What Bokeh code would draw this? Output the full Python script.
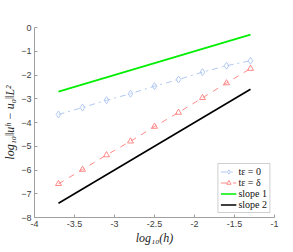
from bokeh.plotting import figure
from bokeh.models import FixedTicker, Legend, LegendItem
from bokeh.embed import file_html
from bokeh.resources import INLINE

# data
log_h = [-3.7, -3.4, -3.1, -2.8, -2.5, -2.2, -1.9, -1.6, -1.3]
err_t0 = [-3.66, -3.37, -3.06, -2.79, -2.47, -2.19, -1.88, -1.61, -1.40]
err_tdelta = [-6.58, -5.98, -5.37, -4.79, -4.17, -3.58, -2.96, -2.34, -1.73]
slope1_x = [-3.7, -1.3]
slope1_y = [-2.7, -0.3]
slope2_x = [-3.7, -1.3]
slope2_y = [-7.4, -2.6]
x_ticks = [-4, -3.5, -3, -2.5, -2, -1.5, -1]
y_ticks = [-8, -7, -6, -5, -4, -3, -2, -1, 0]

p = figure(frame_width=240, frame_height=190, x_range=(-4, -1), y_range=(-8, 0),
           output_backend="svg", toolbar_location=None,
           min_border_left=24, min_border_right=13, min_border_top=27, min_border_bottom=25)
p.background_fill_color = "white"
p.border_fill_color = "white"
p.outline_line_color = None
p.xgrid.visible = False
p.ygrid.visible = False

for ax in (p.xaxis[0], p.yaxis[0]):
    ax.axis_line_color = "#a0a0a0"
    ax.major_tick_line_color = "#a0a0a0"
    ax.minor_tick_line_color = None
    ax.major_tick_in = 3
    ax.major_tick_out = 0
    ax.major_label_text_font = "Liberation Sans"
    ax.major_label_text_font_size = "9px"
    ax.major_label_text_color = "#404040"
    ax.major_label_standoff = 3
    ax.axis_label_text_font = "Liberation Serif"
    ax.axis_label_text_font_style = "italic"
    ax.axis_label_text_font_size = "12px"
    ax.axis_label_text_color = "#222222"
    ax.axis_label_standoff = 1

p.xaxis.ticker = FixedTicker(ticks=x_ticks)
p.yaxis.ticker = FixedTicker(ticks=y_ticks)
p.xaxis.major_label_overrides = {t: f"{t:g}" for t in x_ticks}
p.xaxis.axis_label = "log₁₀(h)"
p.yaxis.axis_label = "log₁₀‖uʰ − u₀‖L²"

blue = "#b3c9f2"
red = "#ff8a8a"
l1 = p.line(log_h, err_t0, line_color=blue, line_width=1, line_dash="dashdot")
m1 = p.scatter(log_h, err_t0, marker="diamond", size=7, line_color=blue,
               fill_color=None, line_width=1)
l2 = p.line(log_h, err_tdelta, line_color=red, line_width=1, line_dash="dashed")
m2 = p.scatter(log_h, err_tdelta, marker="triangle", size=6, line_color=red,
               fill_color=None, line_width=1)
g = p.line(slope1_x, slope1_y, line_color="#00ee00", line_width=1.6)
k = p.line(slope2_x, slope2_y, line_color="black", line_width=1.6)

legend = Legend(items=[
    LegendItem(label="tε = 0", renderers=[l1, m1]),
    LegendItem(label="tε = δ", renderers=[l2, m2]),
    LegendItem(label="slope 1", renderers=[g]),
    LegendItem(label="slope 2", renderers=[k]),
], location="bottom_right")
legend.margin = 4
legend.padding = 2
legend.spacing = 0
legend.glyph_width = 16
legend.glyph_height = 11
legend.label_height = 11
legend.label_standoff = 2
legend.label_text_font = "Liberation Serif"
legend.label_text_font_size = "10px"
legend.label_text_color = "#111111"
legend.border_line_color = "#a0a0a0"
legend.background_fill_alpha = 1
p.add_layout(legend)

open("out.html", "w").write(file_html(p, INLINE))
